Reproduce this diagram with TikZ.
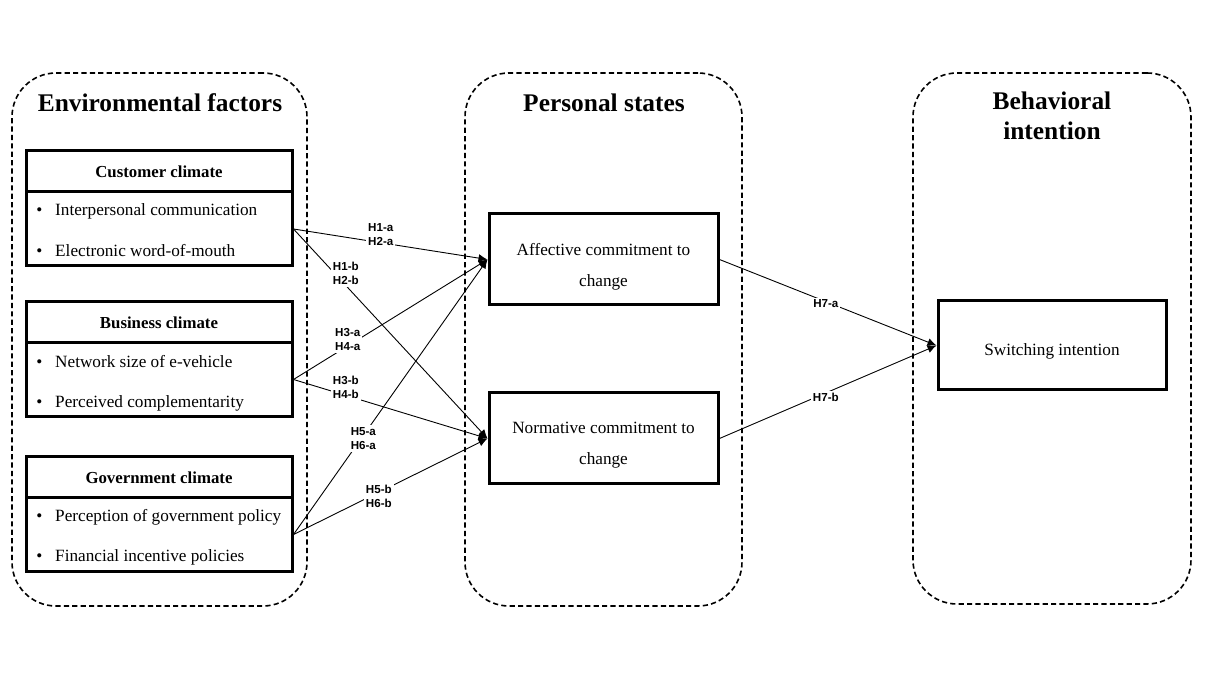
\documentclass[tikz,border=0pt]{standalone}
\usepackage{fontspec}
\setmainfont{Liberation Serif}
\newfontfamily\hypfont{Liberation Sans}
\usetikzlibrary{arrows.meta,positioning}
\tikzset{
  >={Latex[length=4.5pt,width=4pt]},
  grp/.style={draw,line width=0.8pt,dash pattern=on 2.6pt off 1.6pt,rounded corners=22pt,inner sep=0pt},
  grptitle/.style={font=\fontsize{12.7}{15}\selectfont\bfseries,align=center,inner sep=0pt},
  climhead/.style={draw,line width=1.5pt,minimum width=133pt,minimum height=20.5pt,inner sep=0pt,font=\fontsize{8.4}{10}\selectfont\bfseries},
  climbody/.style={draw,line width=1.5pt,minimum width=133pt,minimum height=37pt,inner sep=0pt},
  item/.style={anchor=west,inner sep=0pt,font=\fontsize{8.6}{10}\selectfont},
  construct/.style={draw,line width=1.5pt,minimum width=114.5pt,minimum height=45.5pt,inner sep=0pt},
  cstext/.style={align=center,inner sep=0pt,font=\fontsize{8.6}{15.5}\selectfont},
  hyp/.style={->,line width=0.45pt},
  hlab/.style={fill=white,inner sep=1pt,align=center,font=\hypfont\bfseries\fontsize{5.8}{7}\selectfont}
}
\begin{document}
\begin{tikzpicture}[x=0.5pt,y=-0.5pt]
  \useasboundingbox (0,0) rectangle (1207,678);

  % dashed groups
  \node[grp,minimum width=147.5pt,minimum height=266.5pt] (envgrp) at (159.5,339.5) {};
  \node[grp,minimum width=138.5pt,minimum height=266.5pt] (persgrp) at (603.5,339.5) {};
  \node[grp,minimum width=139pt,minimum height=265.5pt] (behgrp) at (1052,338.5) {};
  \node[grptitle] (envtitle) at (160,103) {Environmental factors};
  \node[grptitle] (perstitle) at (604,103) {Personal states};
  \node[grptitle] (behtitle) at (1052,116) {Behavioral\\intention};

  % climates
  \node[climhead] (cust) at (159,171.5) {Customer climate};
  \node[climbody] (custbody) at (159,229) {};
  \node[item] (c1) at (36,211) {\textbullet\hspace{6.4pt}Interpersonal communication};
  \node[item] (c2) at (36,251) {\textbullet\hspace{6.4pt}Electronic word-of-mouth};

  \node[climhead] (bus) at (159,322.5) {Business climate};
  \node[climbody] (busbody) at (159,379.5) {};
  \node[item] (b1) at (36,362) {\textbullet\hspace{6.4pt}Network size of e-vehicle};
  \node[item] (b2) at (36,403) {\textbullet\hspace{6.4pt}Perceived complementarity};

  \node[climhead] (gov) at (159,477.5) {Government climate};
  \node[climbody] (govbody) at (159,534.5) {};
  \node[item] (g1) at (36,517) {\textbullet\hspace{6.4pt}Perception of government policy};
  \node[item] (g2) at (36,557) {\textbullet\hspace{6.4pt}Financial incentive policies};

  % commitments and intention
  \node[construct] (aff) at (603.5,259.5) {};
  \node[cstext] (afftext) at ([yshift=-3.5pt]aff.center) {Affective commitment to\\change};
  \node[construct] (norm) at (603.5,438.5) {};
  \node[cstext] (normtext) at ([yshift=-3.5pt]norm.center) {Normative commitment to\\change};
  \node[construct,minimum width=114pt,minimum height=44.5pt] (switch) at (1052,345.5) {};
  \node[cstext] (switchtext) at ([yshift=-3pt]switch.center) {Switching intention};

  % hypotheses
  \draw[hyp] (custbody.east) -- node[hlab,pos=0.45,yshift=4pt] {H1-a\\H2-a} (aff.west);
  \draw[hyp] (custbody.east) -- node[hlab,pos=0.27,yshift=6pt] {H1-b\\H2-b} (norm.west);
  \draw[hyp] (busbody.east) -- node[hlab,pos=0.28,yshift=3pt] {H3-a\\H4-a} (aff.west);
  \draw[hyp] (busbody.east) -- node[hlab,pos=0.27,yshift=4pt] {H3-b\\H4-b} (norm.west);
  \draw[hyp] (govbody.east) -- node[hlab,pos=0.36,yshift=-1.5pt] {H5-a\\H6-a} (aff.west);
  \draw[hyp] (govbody.east) -- node[hlab,pos=0.44,yshift=-2pt] {H5-b\\H6-b} (norm.west);
  \draw[hyp] (aff.east) -- node[hlab,pos=0.49,yshift=-1pt] {H7-a} (switch.west);
  \draw[hyp] (norm.east) -- node[hlab,pos=0.49,yshift=-2pt] {H7-b} (switch.west);
\end{tikzpicture}
\end{document}
